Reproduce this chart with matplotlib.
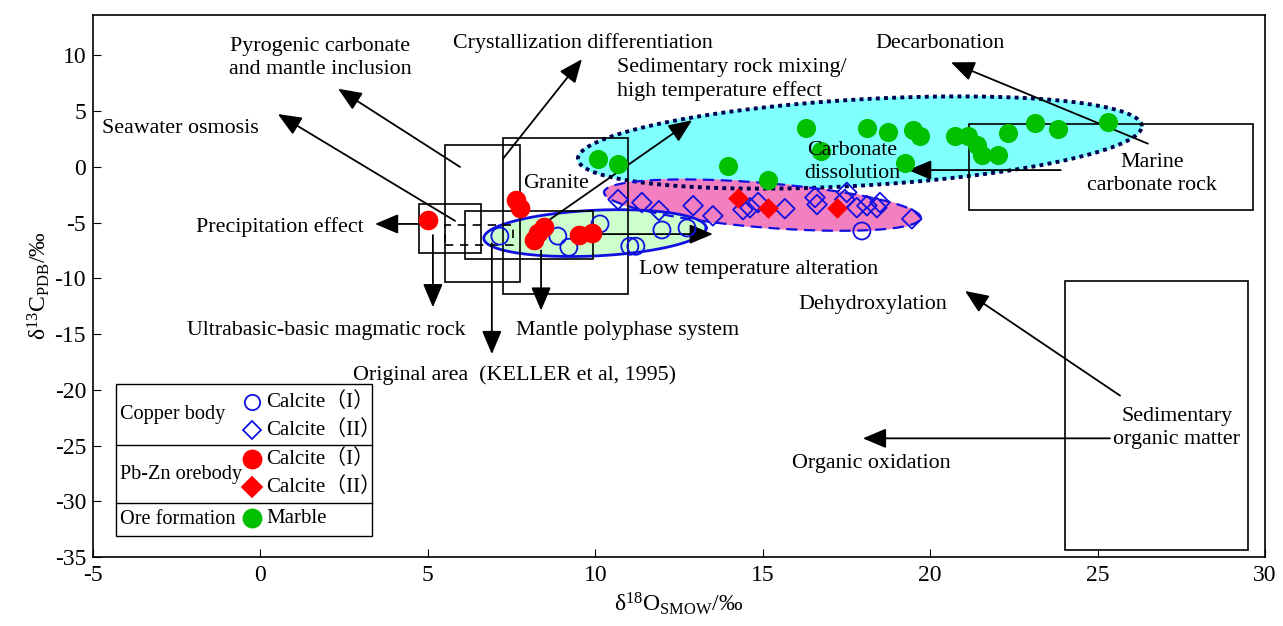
import numpy as np
import matplotlib
matplotlib.use("Agg")
import matplotlib.pyplot as plt
from matplotlib.patches import Rectangle
from matplotlib.lines import Line2D

plt.rcParams['font.family'] = ['Liberation Serif', 'Noto Sans CJK SC', 'DejaVu Sans']
plt.rcParams['mathtext.fontset'] = 'custom'
plt.rcParams['mathtext.rm'] = 'Liberation Serif'
plt.rcParams['mathtext.it'] = 'Liberation Serif:italic'
plt.rcParams['axes.unicode_minus'] = False

# ---- data (δ18O_SMOW, δ13C_PDB) ----
cu_cal1_x = [7.15, 8.88, 9.21, 10.14, 11.03, 11.21, 11.99, 12.74, 17.96]
cu_cal1_y = [-6.22, -6.22, -7.22, -5.13, -7.13, -7.13, -5.67, -5.49, -5.76]

cu_cal2_x = [10.68, 11.39, 11.90, 12.92, 13.51, 14.41, 14.62, 14.86, 15.66,
             16.56, 16.62, 17.51, 17.45, 17.81, 18.11, 18.50, 18.41, 19.45]
cu_cal2_y = [-2.94, -3.21, -3.94, -3.49, -4.40, -3.85, -3.67, -3.21, -3.76,
             -2.76, -3.39, -2.30, -2.94, -3.67, -3.49, -3.21, -3.67, -4.67]

pbzn_cal1_x = [5.00, 7.63, 7.75, 8.17, 8.29, 8.47, 9.51, 9.90]
pbzn_cal1_y = [-4.76, -2.94, -3.67, -6.58, -5.95, -5.40, -6.13, -5.95]

pbzn_cal2_x = [14.26, 15.16, 17.22]
pbzn_cal2_y = [-2.76, -3.67, -3.67]

marble_x = [10.08, 10.68, 13.96, 15.16, 16.29, 16.75, 18.11, 18.74, 19.48, 19.69,
            19.25, 20.74, 21.13, 21.40, 21.55, 22.02, 22.32, 23.13, 23.81, 25.31]
marble_y = [0.71, 0.25, 0.07, -1.21, 3.44, 1.45, 3.44, 3.08, 3.26, 2.71,
            0.34, 2.71, 2.71, 1.98, 1.07, 1.07, 2.98, 3.90, 3.35, 3.99]

# field boxes: (x0, y0, x1, y1, dashed)
boxes = [
    (4.73, -7.77, 6.59, -3.30, False),     # ultrabasic-basic magmatic rock
    (5.51, -10.32, 7.75, 1.98, False),     # pyrogenic carbonate
    (6.11, -8.31, 9.93, -3.94, False),     # mantle polyphase
    (7.24, -11.41, 10.97, 2.62, False),    # granite
    (5.51, -7.04, 7.54, -5.22, True),      # original area
    (21.16, -3.85, 29.64, 3.80, False),    # marine carbonate rock
    (24.02, -34.4, 29.49, -10.2, False),   # sedimentary organic matter
]

# arrows: (tail, head)
arrows = [
    ((5.96, -0.02), (2.32, 6.99)),
    ((5.81, -4.85), (0.52, 4.72)),
    ((4.76, -5.13), (3.42, -5.13)),
    ((5.15, -6.13), (5.15, -12.6)),
    ((6.91, -6.86), (6.91, -16.8)),
    ((8.38, -7.50), (8.38, -12.9)),
    ((7.24, 0.71), (9.60, 9.64)),
    ((8.50, -5.03), (12.89, 4.17)),
    ((10.14, -6.04), (13.51, -6.04)),
    ((26.50, 2.07), (20.62, 9.36)),
    ((23.90, -0.30), (19.34, -0.30)),
    ((25.67, -20.52), (21.04, -11.14)),
    ((25.37, -24.35), (17.99, -24.35)),
]

labels = [
    (1.78, 9.73, "Pyrogenic carbonate\nand mantle inclusion", "center"),
    (9.63, 11.09, "Crystallization differentiation", "center"),
    (10.65, 7.81, "Sedimentary rock mixing/\nhigh temperature effect", "left"),
    (20.29, 11.09, "Decarbonation", "center"),
    (-2.40, 3.44, "Seawater osmosis", "center"),
    (8.83, -1.48, "Granite", "center"),
    (17.66, 0.43, "Carbonate\ndissolution", "center"),
    (26.62, -0.66, "Marine\ncarbonate rock", "center"),
    (0.58, -5.40, "Precipitation effect", "center"),
    (14.89, -9.23, "Low temperature alteration", "center"),
    (1.96, -14.69, "Ultrabasic-basic magmatic rock", "center"),
    (10.97, -14.69, "Mantle polyphase system", "center"),
    (18.29, -12.32, "Dehydroxylation", "center"),
    (7.60, -18.70, "Original area  (KELLER et al, 1995)", "center"),
    (27.37, -23.44, "Sedimentary\norganic matter", "center"),
    (18.23, -26.63, "Organic oxidation", "center"),
]

FS = 15.8


def ellipse_xy(cx, cy, a, b, slope, n=300):
    t = np.linspace(0, 2 * np.pi, n)
    return cx + a * np.cos(t), cy + a * np.cos(t) * slope + b * np.sin(t)


fig = plt.figure(figsize=(12.83, 6.26), dpi=100)
ax = fig.add_axes([0.0725, 0.110, 0.9135, 0.866])
ax.set_xlim(-5, 30)
ax.set_ylim(-35, 13.6)

# shaded fields
ex, ey = ellipse_xy(17.9, 2.17, 8.42, 3.87, 0.173)
ax.fill(ex, ey, color="#80FFFF", zorder=1)
ax.plot(ex, ey, color="#000050", lw=2.8, ls=(0, (1, 1.1)), zorder=2)

ex, ey = ellipse_xy(14.99, -3.44, 4.73, 2.0, -0.241)
ax.fill(ex, ey, color="#F27FC0", zorder=1.5)
ax.plot(ex, ey, color="#1010E0", lw=1.6, ls=(0, (5, 3)), zorder=2)

ex, ey = ellipse_xy(9.99, -5.95, 3.32, 2.05, 0.137)
ax.fill(ex, ey, color="#CCFFCC", zorder=1.5)
ax.plot(ex, ey, color="#1010E0", lw=2.0, zorder=2)

for x0, y0, x1, y1, dashed in boxes:
    ax.add_patch(Rectangle((x0, y0), x1 - x0, y1 - y0, fill=False, ec="k",
                           lw=1.2, ls=(0, (5, 4)) if dashed else "-", zorder=3))

for tail, head in arrows:
    ax.annotate("", xy=head, xytext=tail, zorder=4,
                arrowprops=dict(arrowstyle="-|>,head_length=0.9,head_width=0.38",
                                color="k", lw=1.3, mutation_scale=16,
                                shrinkA=0, shrinkB=0))

for x, y, s, ha in labels:
    ax.text(x, y, s, ha=ha, va="center", fontsize=FS, multialignment=ha,
            linespacing=1.3, zorder=6)

# samples
ax.scatter(marble_x, marble_y, s=190, color="#00C000", zorder=5, lw=0)
ax.scatter(cu_cal1_x, cu_cal1_y, s=150, facecolor="none", edgecolor="#1010E0",
           lw=1.3, zorder=5)
ax.scatter(cu_cal2_x, cu_cal2_y, s=100, marker="D", facecolor="none",
           edgecolor="#1010E0", lw=1.3, zorder=5)
ax.scatter(pbzn_cal1_x, pbzn_cal1_y, s=200, color="red", zorder=5, lw=0)
ax.scatter(pbzn_cal2_x, pbzn_cal2_y, s=110, marker="D", color="red", zorder=5, lw=0)

# axes styling
ax.set_xticks(range(-5, 31, 5))
ax.set_yticks(range(-35, 11, 5))
ax.tick_params(direction="in", length=6, labelsize=17, top=False, right=False)
ax.tick_params(axis="x", pad=6)
ax.tick_params(axis="y", pad=5)
for sp in ax.spines.values():
    sp.set_linewidth(1.2)
ax.set_xlabel("δ$^{18}$O$_{\\rm SMOW}$/‰", fontsize=17, labelpad=3)
ax.set_ylabel("δ$^{13}$C$_{\\rm PDB}$/‰", fontsize=17, labelpad=2)

# legend table
tr = ax.transAxes
ax.add_patch(Rectangle((0.0196, 0.0387), 0.2184, 0.2803, transform=tr,
                       fill=True, fc="white", ec="k", lw=1.0, zorder=7))
for yy in [0.2066, 0.0996]:
    ax.add_line(Line2D([0.0196, 0.238], [yy, yy], transform=tr, color="k",
                       lw=1.0, zorder=8))
groups = [("Copper body", 0.264), ("Pb-Zn orebody", 0.153), ("Ore formation", 0.070)]
for s, yy in groups:
    ax.text(0.023, yy, s, transform=tr, ha="left", va="center", fontsize=14.6, zorder=8)
leg_items = [
    ("o", "none", "#1010E0", 11, 0.286, "Calcite（I）"),
    ("D", "none", "#1010E0", 9, 0.234, "Calcite（II）"),
    ("o", "red", "red", 13, 0.181, "Calcite（I）"),
    ("D", "red", "red", 10, 0.129, "Calcite（II）"),
    ("o", "#00C000", "#00C000", 13, 0.072, "Marble"),
]
for m, fc, ec, ms, yy, s in leg_items:
    ax.plot([0.1357], [yy], marker=m, ms=ms, mfc=fc, mec=ec, mew=1.3,
            transform=tr, zorder=8, clip_on=False)
    ax.text(0.148, yy, s, transform=tr, ha="left", va="center", fontsize=15, zorder=8)

fig.savefig("out.png", dpi=100)
